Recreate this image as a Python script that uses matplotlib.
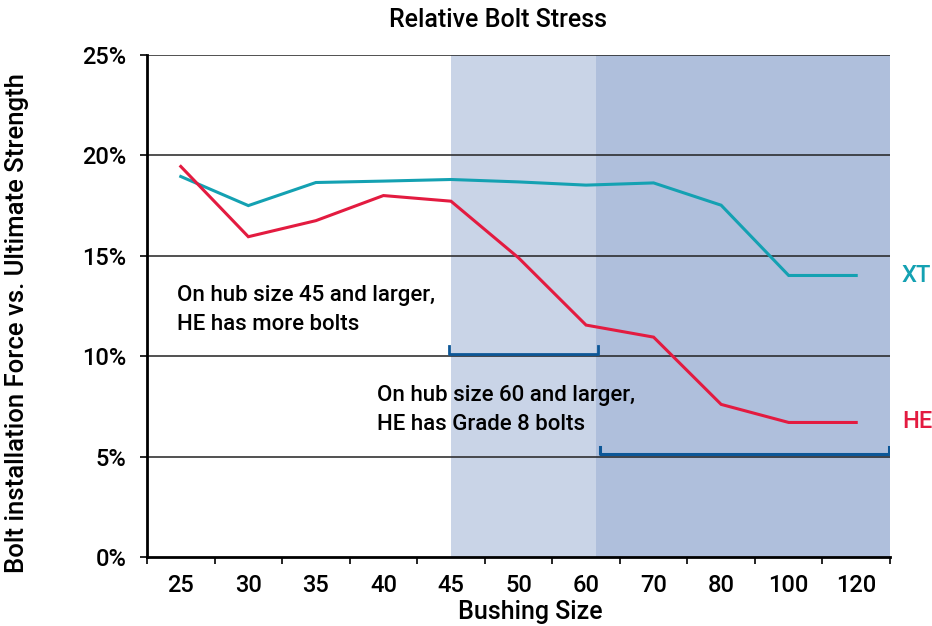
import matplotlib.pyplot as plt
import numpy as np

# Data (percent of ultimate strength)
sizes = ['25', '30', '35', '40', '45', '50', '60', '70', '80', '100', '120']
xt_stress = [18.95, 17.5, 18.65, 18.72, 18.8, 18.68, 18.52, 18.63, 17.52, 14.02, 14.02]
he_stress = [19.45, 15.95, 16.75, 18.0, 17.72, 14.9, 11.55, 10.95, 7.6, 6.7, 6.7]
y_ticks = [0, 5, 10, 15, 20, 25]

plt.rcParams['font.family'] = ['Roboto', 'DejaVu Sans']
plt.rcParams['font.weight'] = 'medium'

teal = '#14a1b2'
red = '#e31b40'
bracket_col = '#0d5797'

fig = plt.figure(figsize=(9.32, 6.26), dpi=100)
ax = fig.add_axes([147/932, 1 - 557/626, (890 - 147)/932, (557 - 55)/626])

x = np.arange(len(sizes))

# shaded bands
ax.axvspan(4.0, 6.15, color='#c9d4e7', lw=0, zorder=0)
ax.axvspan(6.15, 10.5, color='#afbfdc', lw=0, zorder=0)

# grid lines
for yv in y_ticks[1:]:
    ax.axhline(yv, color='#222222', lw=1.1, zorder=1)

ax.plot(x, xt_stress, color=teal, lw=2.2, zorder=3, solid_joinstyle='miter')
ax.plot(x, he_stress, color=red, lw=2.2, zorder=3, solid_joinstyle='miter')

# brackets
ax.plot([3.97, 3.97, 6.17, 6.17], [10.5, 10.12, 10.12, 10.5], color=bracket_col, lw=2, zorder=4)
ax.plot([6.2, 6.2, 10.48, 10.48], [5.5, 5.13, 5.13, 5.5], color=bracket_col, lw=2.2, zorder=4)

ax.set_xlim(-0.5, 10.5)
ax.set_ylim(0, 25)

ax.set_xticks(np.arange(-0.5, 11, 1))
ax.set_xticklabels([])
ax.set_xticks(x, minor=True)
ax.set_xticklabels(sizes, minor=True)
ax.tick_params(axis='x', which='major', length=5, width=1.2, direction='out')
ax.tick_params(axis='x', which='minor', length=0, pad=12, labelsize=17)

ax.set_yticks(y_ticks)
ax.set_yticklabels([f'{v}%' for v in y_ticks])
ax.tick_params(axis='y', length=5, width=1.2, pad=10, labelsize=17)

for s in ['top', 'right']:
    ax.spines[s].set_visible(False)
for s in ['left', 'bottom']:
    ax.spines[s].set_linewidth(2)
    ax.spines[s].set_zorder(5)

# annotations
ax.text(-0.05, 12.3, 'On hub size 45 and larger,\nHE has more bolts',
        fontsize=16, linespacing=1.5, va='center', ha='left', zorder=6)
ax.text(2.9, 7.3, 'On hub size 60 and larger,\nHE has Grade 8 bolts',
        fontsize=16, linespacing=1.5, va='center', ha='left', zorder=6)

fig.text(902/932, 1 - 276/626, 'XT', color=teal, fontsize=17, va='center', ha='left')
fig.text(902/932, 1 - 422/626, 'HE', color=red, fontsize=17, va='center', ha='left')

fig.text(498/932, 1 - 20/626, 'Relative Bolt Stress', fontsize=18, ha='center', va='center')
fig.text(530/932, 1 - 612/626, 'Bushing Size', fontsize=18, ha='center', va='center')
fig.text(17/932, 1 - 323/626, 'Bolt installation Force vs. Ultimate Strength',
         fontsize=18.5, rotation=90, ha='center', va='center')

fig.savefig('out.png', dpi=100)
